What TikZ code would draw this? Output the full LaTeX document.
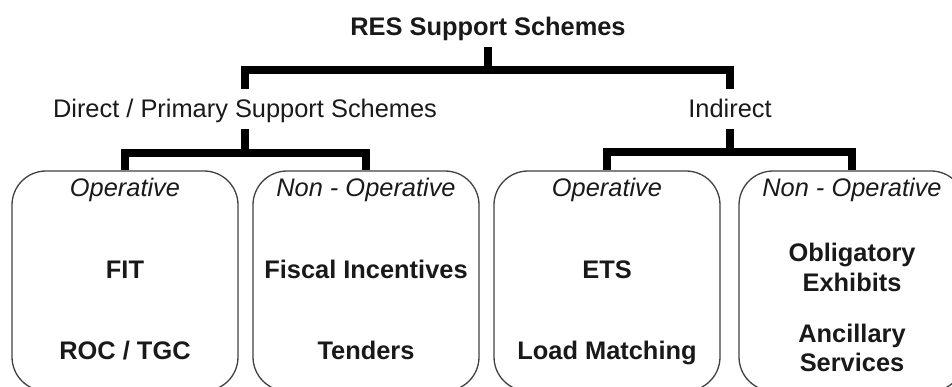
\documentclass[tikz,border=0pt]{standalone}
\usepackage{fontspec}
\setmainfont{Liberation Sans}
\begin{document}
\begin{tikzpicture}[x=1pt,y=-1pt,
  every node/.style={font=\fontsize{25.4}{29}\selectfont, text=black!90, inner sep=0pt},
  heading/.style={text height=18pt, text depth=0pt, inner ysep=11pt},
  bar/.style={line width=8.5pt, black, line join=miter},
  panel/.style={draw=black!75, line width=1.3pt, rounded corners=34pt,
                minimum width=226pt, minimum height=220pt},
  kind/.style={font=\fontsize{25.4}{29}\selectfont\itshape, anchor=base},
  item/.style={font=\fontsize{25.4}{29}\selectfont\bfseries, anchor=base}]
\useasboundingbox (0,0) rectangle (952,387);
\clip (0,0) rectangle (952,387);

% headings
\node[heading, font=\fontsize{25.4}{29}\selectfont\bfseries] (root) at (488,27) {RES Support Schemes};
\node[heading] (direct) at (245,109) {Direct / Primary Support Schemes};
\node[heading] (indirect) at (730,109) {Indirect};

% panels
\node[panel] (b1) at (125,281) {};
\node[panel] (b2) at (366,281) {};
\node[panel] (b3) at (607,281) {};
\node[panel] (b4) at (852,281) {};

% panel contents
\node[kind] (k1) at ([yshift=-26pt]b1.north) {Operative};
\node[item] (fit) at ([yshift=-108pt]b1.north) {FIT};
\node[item] (roc) at ([yshift=-189pt]b1.north) {ROC / TGC};

\node[kind] (k2) at ([yshift=-26pt]b2.north) {Non - Operative};
\node[item] (fisc) at ([yshift=-108pt]b2.north) {Fiscal Incentives};
\node[item] (tend) at ([yshift=-189pt]b2.north) {Tenders};

\node[kind] (k3) at ([yshift=-26pt]b3.north) {Operative};
\node[item] (ets) at ([yshift=-108pt]b3.north) {ETS};
\node[item] (load) at ([yshift=-189pt]b3.north) {Load Matching};

\node[kind] (k4) at ([yshift=-26pt]b4.north) {Non - Operative};
\node[item] (obl) at ([yshift=-91pt]b4.north) {Obligatory};
\node[item] (exh) at ([yshift=-121pt]b4.north) {Exhibits};
\node[item] (anc) at ([yshift=-172pt]b4.north) {Ancillary};
\node[item] (serv) at ([yshift=-201pt]b4.north) {Services};

% bracket junctions
\coordinate (jA) at (488,70);
\coordinate (jB) at (245,153);
\coordinate (jC) at (730,152);

% brackets
\draw[bar] (root.south) -- (jA);
\draw[bar] (direct.north) |- (jA) -| (indirect.north);
\draw[bar] (direct.south) -- (jB);
\draw[bar] (b1.north) |- (jB) -| (b2.north);
\draw[bar] (indirect.south) -- (jC);
\draw[bar] (b3.north) |- (jC) -| (b4.north);
\end{tikzpicture}
\end{document}
